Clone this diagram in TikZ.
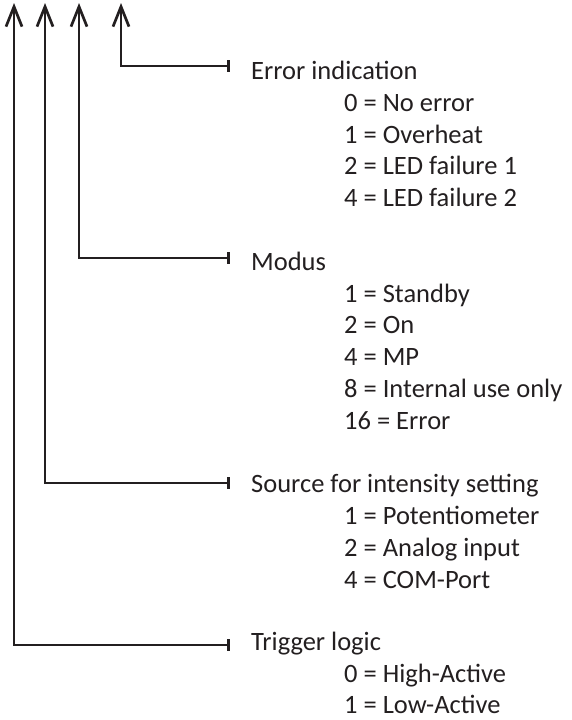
\documentclass[tikz,border=0pt]{standalone}
\usepackage{fontspec}
\setmainfont{Carlito}
\usetikzlibrary{arrows.meta}
\definecolor{ink}{HTML}{231F20}
\tikzset{
  conn/.style={draw=ink, line width=2.7pt,
    {Straight Barb[length=20pt,width=16pt]}-{Bar[width=12pt]}},
  title/.style={anchor=base west, inner sep=0pt, text=ink},
  item/.style={anchor=base west, inner sep=0pt, text=ink},
}
\begin{document}
\begin{tikzpicture}[x=1pt, y=-1pt, font=\fontsize{26.5}{31.8}\selectfont]
\useasboundingbox (0,0) rectangle (571,720);

% group headings
\node[title] (err) at (251,79)  {Error indication};
\node[title] (mod) at (251,270) {Modus};
\node[title] (src) at (251,492) {Source for intensity setting};
\node[title] (trg) at (251,650) {Trigger logic};

% values of the error indication
\node[item] (e0) at (344,111) {0 = No error};
\node[item] (e1) at (344,143) {1 = Overheat};
\node[item] (e2) at (344,174) {2 = LED failure 1};
\node[item] (e4) at (344,206) {4 = LED failure 2};

% operating modes
\node[item] (m1)  at (344,302) {1 = Standby};
\node[item] (m2)  at (344,333) {2 = On};
\node[item] (m4)  at (344,365) {4 = MP};
\node[item] (m8)  at (344,397) {8 = Internal use only};
\node[item] (m16) at (344,429) {16 = Error};

% intensity sources
\node[item] (s1) at (344,524) {1 = Potentiometer};
\node[item] (s2) at (344,556) {2 = Analog input};
\node[item] (s4) at (344,588) {4 = COM-Port};

% trigger levels
\node[item] (t0) at (344,682) {0 = High-Active};
\node[item] (t1) at (344,713) {1 = Low-Active};

% arrow tips at the top and bar ends in front of the headings
\coordinate (errtop) at (121,3);
\coordinate (modtop) at (79,3);
\coordinate (srctop) at (45,3);
\coordinate (trgtop) at (14,3);
\coordinate (errend) at (230,66);
\coordinate (modend) at (230,258);
\coordinate (srcend) at (230,483);
\coordinate (trgend) at (230,645);

\draw[conn] (errtop) |- (errend);
\draw[conn] (modtop) |- (modend);
\draw[conn] (srctop) |- (srcend);
\draw[conn] (trgtop) |- (trgend);
\end{tikzpicture}
\end{document}
